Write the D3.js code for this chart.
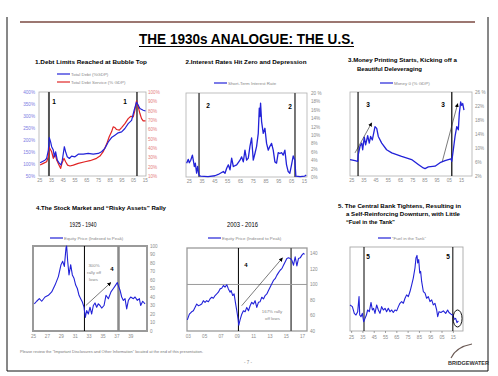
<!DOCTYPE html>
<html>
<head>
<meta charset="utf-8">
<script src="https://cdn.jsdelivr.net/npm/d3@7"></script>
<style>
  body { margin: 0; background: #fff; }
  svg { display: block; font-family: Arial, "Liberation Sans", sans-serif; }
</style>
</head>
<body>
<svg></svg>
<script>
// ---- data ----
// 1. total debt (% GDP, left axis) and debt service (% GDP, right axis)
var totalDebt = [[1925.6,105],[1929.8,116],[1931.2,123],[1932.7,158],[1933.5,210],[1934.6,192],[1935.5,172],[1936.9,158],[1937.8,130],[1938.9,151],[1940.3,116],[1942.0,103],[1943.5,96],[1944.6,116],[1946.3,172],[1947.4,151],[1948.8,130],[1950.6,123],[1952.5,133],[1955.4,130],[1958.2,141],[1962.5,141],[1966.7,144],[1971.0,141],[1975.3,144],[1978.1,151],[1980.9,165],[1983.8,192],[1986.6,210],[1989.5,220],[1992.3,230],[1995.2,234],[1998.0,248],[2000.8,268],[2003.7,282],[2005.9,324],[2007.9,358],[2009.4,345],[2010.8,331],[2013.6,324],[2015.6,321]];
var debtService = [[1925.6,21.7],[1928.4,23.5],[1931.2,25.3],[1932.7,30.6],[1933.5,40.6],[1935.5,36],[1936.9,28.9],[1938.3,34.2],[1939.8,27.1],[1941.7,21.7],[1943.2,18.2],[1944.3,23.5],[1946.0,28.9],[1947.4,25.3],[1949.1,21.7],[1951.1,20.7],[1954.0,21.7],[1958.2,23.5],[1963.9,25.3],[1968.2,26.4],[1973.8,28.9],[1976.7,31.3],[1979.5,36],[1982.4,44.2],[1984.6,52],[1986.6,57.3],[1988.0,62.6],[1989.5,61.9],[1990.9,59.8],[1993.2,59.1],[1995.2,61.9],[1998.0,66.2],[2000.8,71.5],[2003.1,74],[2005.1,73.3],[2006.5,80.4],[2007.9,90.4],[2009.4,84],[2010.8,76.9],[2012.2,71.5],[2013.6,69],[2015.6,69]];
var debtTicks = [50,100,150,200,250,300,350,400];
var serviceTicks = [10,20,30,40,50,60,70,80,90,100];
var debtMarkers = [1933.2, 2008.3];

// 2. short-term interest rate (%)
var shortRate = [[1923.3,3.3],[1924.6,4.2],[1925.4,3.4],[1926.5,4.0],[1927.8,5.2],[1928.5,4.0],[1929.3,2.5],[1930.1,3.3],[1931.1,0.9],[1931.9,2.5],[1932.9,0.5],[1934.2,0.2],[1940,0.1],[1945.4,0.3],[1948,0.6],[1952,1.3],[1953.3,0.9],[1954.6,2.1],[1955.9,2.9],[1957.2,1.7],[1958.5,4.5],[1959.8,2.5],[1962.4,2.9],[1965,4.0],[1966.3,4.8],[1967.6,3.6],[1968.9,6.4],[1970.2,4.0],[1971.5,4.5],[1972.8,7.3],[1974.1,9.3],[1975.4,4.0],[1976.7,5.6],[1978,7.3],[1979.3,10.4],[1980.1,16.4],[1980.6,14.4],[1981.1,17.6],[1981.9,13.2],[1983.2,10.4],[1984.5,11.6],[1985.8,8.0],[1987.1,6.4],[1988.4,7.3],[1989.7,8.0],[1991,6.4],[1992.3,3.6],[1993.6,3.3],[1994.9,5.8],[1996.2,5.6],[1997.5,5.8],[1998.8,5.2],[2000.1,6.4],[2001.4,2.9],[2002.7,1.3],[2004,0.9],[2005.3,2.9],[2006.6,5.0],[2007.9,4.0],[2008.7,0.2],[2012,0.1],[2015.5,0.2],[2016.8,0.5]];
var rateTicks = [0,2,4,6,8,10,12,14,16,18,20];
var rateMarkers = [1933, 2008];

// 3. money 0 (% GDP)
var money0 = [[1924,6.7],[1928.1,6.4],[1930.3,6.2],[1930.8,8.1],[1932.2,10.5],[1933.6,11.4],[1934.4,9.5],[1935.7,13.1],[1936.8,10.9],[1938.5,13.5],[1939.8,11.4],[1940.9,13.3],[1942.3,12.3],[1944.5,16.1],[1945.9,15.6],[1947.2,13.3],[1950,11.4],[1954,9.5],[1958.2,8.6],[1966.3,7.6],[1974.5,6.7],[1980,5.3],[1984.1,4.3],[1985.5,4.1],[1988.2,4.6],[1993.7,4.8],[1997.8,5.8],[2001.9,6.4],[2004.6,6.7],[2006.8,6.9],[2007.4,6.2],[2008.7,9.5],[2010.1,13.3],[2011.5,16.1],[2012.8,15.2],[2013.6,19.9],[2014.7,23.2],[2015.5,22.2],[2016.4,22.7],[2017.4,20.8]];
var moneyTicks = [2,6,10,14,18,22,26];
var moneyMarkers = [1930.6, 2007.4];
var moneyArrows = [[[1928.1,8.6],[1941.8,17.2]], [[1999.7,6.2],[2012.3,22.7]]];

// 4a. equity price 1925-1940 (indexed to peak)
var equity1925 = [[1925.19,32],[1925.53,35],[1925.91,38],[1926.25,35],[1926.73,40],[1927.21,42],[1927.69,46],[1928.17,54],[1928.65,64],[1929.03,78],[1929.27,82],[1929.51,76],[1929.75,98],[1929.84,100],[1929.99,82],[1930.18,66],[1930.42,78],[1930.66,66],[1930.9,62],[1931.14,54],[1931.38,50],[1931.62,42],[1931.86,38],[1932.1,34],[1932.34,28],[1932.53,16],[1932.72,24],[1932.96,20],[1933.2,28],[1933.44,20],[1933.68,30],[1933.92,33],[1934.16,28],[1934.4,32],[1934.64,30],[1934.88,27],[1935.22,30],[1935.5,42],[1935.84,38],[1936.22,46],[1936.56,50],[1936.89,54],[1937.13,57],[1937.33,52],[1937.52,48],[1937.76,40],[1938,36],[1938.24,38],[1938.48,26],[1938.72,36],[1939.05,40],[1939.44,38],[1939.68,40],[1940.01,36],[1940.3,38],[1940.49,30],[1940.78,35],[1941.12,32]];
var equity1925Ticks = [0,10,20,30,40,50,60,70,80,90,100];
var equity1925Years = [1925,1927,1929,1931,1933,1935,1937,1939];
var equity1925Markers = [1932.4, 1937.3];
var equity1925Arrow = [[1932.6,30],[1936.2,57]];

// 4b. equity price 2003-2016 (indexed to peak)
var equity2003 = [[2002.94,54.3],[2003.19,61.7],[2003.47,64.8],[2003.68,66.1],[2003.88,70.4],[2004.09,74.8],[2004.29,72.6],[2004.5,73.5],[2004.7,74.8],[2004.9,79.1],[2005.11,77],[2005.31,79.1],[2005.52,77.8],[2005.72,81.3],[2005.93,83.5],[2006.13,82.2],[2006.34,85.7],[2006.54,87.8],[2006.74,90],[2006.95,94.3],[2007.15,95.2],[2007.36,98.7],[2007.56,96.5],[2007.77,99.6],[2007.97,94.3],[2008.18,90],[2008.3,92.2],[2008.5,85.7],[2008.67,87.8],[2008.83,77],[2009,66.1],[2009.16,55.2],[2009.24,47.4],[2009.4,54.3],[2009.61,61.7],[2009.81,66.1],[2010.02,64.8],[2010.22,70.4],[2010.43,66.1],[2010.63,72.6],[2010.83,77],[2011.04,74.8],[2011.24,79.1],[2011.45,70.4],[2011.65,77],[2011.86,77.8],[2012.06,83.5],[2012.27,81.3],[2012.47,85.7],[2012.68,87.8],[2012.88,92.2],[2013.08,96.5],[2013.29,100.9],[2013.49,105.2],[2013.7,107.4],[2013.9,111.7],[2014.11,115.2],[2014.31,118.3],[2014.52,120.4],[2014.72,124.8],[2014.92,129.1],[2015.13,133.5],[2015.33,134.3],[2015.54,133.5],[2015.74,131.3],[2015.95,124.8],[2016.15,135.7],[2016.36,123.9],[2016.56,133.5],[2016.77,134.3],[2016.97,137.8],[2017.17,140],[2017.3,138.7]];
var equity2003Ticks = [40,60,80,100,120,140];
var equity2003Years = [2003,2005,2007,2009,2011,2013,2015,2017];
var equity2003Markers = [2009.2, 2015.65];
var equity2003Arrow = [[2009.6,72.6],[2014.6,134.3]];

// 5. "fuel in the tank" (no scale shown)
var fuelInTank = [[1924,31],[1926.1,29],[1927.8,21],[1929.3,19],[1930.8,23],[1932,41],[1932.6,19],[1933.7,17],[1934.9,21],[1936.1,11],[1937.3,15],[1938.5,19],[1939.6,25],[1941.1,23],[1942.6,34],[1943.8,25],[1944.9,27],[1946.1,21],[1947.6,31],[1949.1,25],[1950.5,21],[1952,29],[1953.5,25],[1955,27],[1956.4,23],[1957.9,27],[1959.4,23],[1960.9,25],[1962.3,22],[1963.8,25],[1965.3,24],[1966.8,29],[1968.2,33],[1969.7,35],[1971.2,33],[1972.7,39],[1974.1,43],[1975.6,41],[1977.1,47],[1978.6,55],[1980,63],[1981.5,75],[1982.4,87],[1983.3,90],[1983.9,81],[1984.8,85],[1985.7,69],[1986.5,71],[1987.4,59],[1988.9,47],[1990.4,45],[1991.8,39],[1993.3,41],[1994.8,35],[1996.3,37],[1997.7,31],[1999.2,33],[2000.7,25],[2001.6,17],[2002.8,23],[2004.5,22],[2006.6,24],[2008.7,21],[2010.4,25],[2011.6,22],[2013.4,20],[2014.9,19],[2016.3,14],[2017.5,15],[2018.7,10],[2019.9,12]];
var fuelMarkers = [1936.4, 2015];

var decadeYears = [1925,1935,1945,1955,1965,1975,1985,1995,2005,2015];

// ---- drawing ----
var svg = d3.select("svg").attr("width", 498).attr("height", 376);
svg.append("rect").attr("width", 498).attr("height", 376).attr("fill", "#fff");

svg.append("defs").append("marker")
  .attr("id", "arrow").attr("viewBox", "0 0 10 10")
  .attr("refX", 9).attr("refY", 5)
  .attr("markerUnits", "userSpaceOnUse")
  .attr("markerWidth", 4).attr("markerHeight", 4)
  .attr("orient", "auto")
  .append("path").attr("d", "M0,0L10,5L0,10z").attr("fill", "#000");

var BLUE = "#2222d8", RED = "#e02525";

function styleAxis(a, color) {
  a.select(".domain").remove();
  a.attr("font-size", 4.6).attr("font-family", null);
  a.selectAll("text").attr("fill", color);
  a.selectAll("line").attr("stroke", "#666").attr("stroke-width", 0.6);
}

function drawPanel(p) {
  var x = d3.scaleLinear().domain(p.xDomain).range([p.left, p.right]);
  var y = d3.scaleLinear().domain(p.yDomain).range([p.bottom, p.top]);
  var g = svg.append("g");
  g.append("rect")
    .attr("x", p.left).attr("y", p.top)
    .attr("width", p.right - p.left).attr("height", p.bottom - p.top)
    .attr("fill", "none").attr("stroke", p.frame).attr("stroke-width", p.frameWidth);

  var xa = g.append("g").attr("transform", "translate(0," + p.bottom + ")")
    .call(d3.axisBottom(x).tickValues(p.xTicks).tickSize(p.xTickSize || 0).tickPadding(p.xPad)
      .tickFormat(function (d) { return String(d).slice(-2); }));
  styleAxis(xa, "#8c8c8c");

  if (p.yTicks) {
    var ya = g.append("g").attr("transform", "translate(" + p.right + ",0)")
      .call(d3.axisRight(y).tickValues(p.yTicks).tickSize(0).tickPadding(p.yPad)
        .tickFormat(p.yFormat));
    styleAxis(ya, p.yColor || "#8c8c8c");
  }

  p.markers.forEach(function (m, i) {
    g.append("line")
      .attr("x1", x(m)).attr("x2", x(m))
      .attr("y1", p.top).attr("y2", p.bottom)
      .attr("stroke", p.markerStyle[i][0]).attr("stroke-width", p.markerStyle[i][1]);
  });
  return { x: x, y: y, g: g };
}

function drawLine(P, data, yScale, color, w) {
  P.g.append("path").datum(data)
    .attr("fill", "none").attr("stroke", color).attr("stroke-width", w)
    .attr("stroke-linejoin", "round")
    .attr("d", d3.line().x(function (d) { return P.x(d[0]); })
      .y(function (d) { return yScale(d[1]); }));
}

function drawArrow(P, pts) {
  P.g.append("line")
    .attr("x1", P.x(pts[0][0])).attr("y1", P.y(pts[0][1]))
    .attr("x2", P.x(pts[1][0])).attr("y2", P.y(pts[1][1]))
    .attr("stroke", "#222").attr("stroke-width", 0.6)
    .attr("marker-end", "url(#arrow)");
}

function label(txt, x, y, size, opts) {
  opts = opts || {};
  var t = svg.append("text").attr("x", x).attr("y", y)
    .attr("font-size", size).attr("fill", opts.fill || "#000")
    .attr("text-anchor", opts.anchor || "start")
    .attr("font-weight", opts.bold ? "bold" : "normal")
    .text(txt);
  if (opts.len) t.attr("textLength", opts.len).attr("lengthAdjust", "spacingAndGlyphs");
  return t;
}

function legend(x, y, color, txt) {
  svg.append("line").attr("x1", x).attr("x2", x + 13).attr("y1", y).attr("y2", y)
    .attr("stroke", color).attr("stroke-width", 1.2);
  label(txt, x + 14, y + 1.5, 4.4, { fill: "#888" });
}

// frame of the slide
svg.append("path").attr("d", "M7,17V371H488V17").attr("fill", "none")
  .attr("stroke", "#111").attr("stroke-width", 1);
svg.append("line").attr("x1", 20).attr("x2", 475).attr("y1", 22).attr("y2", 22)
  .attr("stroke", "#7b4a42").attr("stroke-width", 1.6);

label("THE 1930s ANALOGUE: THE U.S.", 246.5, 44, 14, { anchor: "middle", bold: true, len: 215 });
svg.append("line").attr("x1", 139).attr("x2", 354).attr("y1", 46.5).attr("y2", 46.5)
  .attr("stroke", "#000").attr("stroke-width", 1);

// ---- panel 1 ----
label("1.Debt Limits Reached at Bubble Top", 91, 64, 6, { anchor: "middle", bold: true, len: 112 });
legend(57, 74, BLUE, "Total Debt (%GDP)");
legend(57, 82, RED, "Total Debt Service (% GDP)");
var P1 = drawPanel({
  left: 39, right: 146, top: 92, bottom: 176,
  xDomain: [1924.7, 2016], yDomain: [50, 400], xTicks: decadeYears, xPad: 3,
  frame: "#b0b0b0", frameWidth: 0.8,
  markers: debtMarkers, markerStyle: [["#555", 2], ["#000", 1.2]]
});
var y1b = d3.scaleLinear().domain([10, 100]).range([176, 92]);
var la = P1.g.append("g").attr("transform", "translate(39,0)")
  .call(d3.axisLeft(P1.y).tickValues(debtTicks).tickSize(0).tickPadding(4)
    .tickFormat(function (d) { return d + "%"; }));
styleAxis(la, "#7b7be3");
var ra = P1.g.append("g").attr("transform", "translate(146,0)")
  .call(d3.axisRight(y1b).tickValues(serviceTicks).tickSize(0).tickPadding(2)
    .tickFormat(function (d) { return d + "%"; }));
styleAxis(ra, "#e57e7e");
drawLine(P1, debtService, y1b, RED, 1.2);
drawLine(P1, totalDebt, P1.y, BLUE, 1.2);
label("1", P1.x(debtMarkers[0]) + 5, 104, 6.5, { anchor: "middle", bold: true });
label("1", P1.x(debtMarkers[1]) - 12, 104, 6.5, { anchor: "middle", bold: true });

// ---- panel 2 ----
label("2.Interest Rates Hit Zero and Depression", 246, 64, 6, { anchor: "middle", bold: true, len: 121 });
legend(214, 83, BLUE, "Short-Term Interest Rate");
var P2 = drawPanel({
  left: 186, right: 307, top: 93, bottom: 177,
  xDomain: [1922.8, 2017.4], yDomain: [0, 20], xTicks: decadeYears, xPad: 3,
  yTicks: rateTicks, yPad: 4, yFormat: function (d) { return d === 20 ? "20 %" : d + "%"; },
  frame: "#b0b0b0", frameWidth: 0.8,
  markers: rateMarkers, markerStyle: [["#555", 1.6], ["#555", 1.6]]
});
drawLine(P2, shortRate, P2.y, BLUE, 1.3);
label("2", P2.x(rateMarkers[0]) + 9, 108, 6.5, { anchor: "middle", bold: true });
label("2", P2.x(rateMarkers[1]) - 5, 108.5, 6.5, { anchor: "middle", bold: true });

// ---- panel 3 ----
label("3.Money Printing Starts, Kicking off a", 348, 62, 6, { bold: true, len: 109 });
label("Beautiful Deleveraging", 357, 71, 6, { bold: true, len: 65 });
legend(380, 83, BLUE, "Money 0 (% GDP)");
var P3 = drawPanel({
  left: 350, right: 472, top: 92, bottom: 176,
  xDomain: [1924, 2024], yDomain: [2, 26], xTicks: decadeYears, xPad: 3,
  yTicks: moneyTicks, yPad: 3, yFormat: function (d) { return d === 26 ? "26 %" : d + "%"; },
  frame: "#b0b0b0", frameWidth: 0.8,
  markers: moneyMarkers, markerStyle: [["#111", 1.2], ["#333", 1.5]]
});
drawLine(P3, money0, P3.y, BLUE, 1.3);
moneyArrows.forEach(function (a) { drawArrow(P3, a); });
label("3", 368, 107, 6.5, { anchor: "middle", bold: true });
label("3", 443, 107, 6.5, { anchor: "middle", bold: true });

// ---- panel 4 (two charts) ----
label("4.The Stock Market and \u201cRisky Assets\u201d Rally", 36, 210, 6, { bold: true, len: 130 });
label("1925 - 1940", 83, 227, 6.5, { anchor: "middle", len: 27 });
label("2003 - 2016", 242.5, 227, 6.5, { anchor: "middle", len: 31 });
legend(50, 238, BLUE, "Equity Price (Indexed to Peak)");
legend(208, 238, BLUE, "Equity Price (Indexed to Peak)");

var P4 = drawPanel({
  left: 33, right: 147, top: 246, bottom: 331,
  xDomain: [1925, 1941.4], yDomain: [0, 100], xTicks: equity1925Years, xPad: 4,
  yTicks: equity1925Ticks, yPad: 3, yFormat: function (d) { return d; },
  frame: "#9a9a9a", frameWidth: 2,
  markers: equity1925Markers, markerStyle: [["#000", 1], ["#8a8a8a", 2.5]]
});
drawLine(P4, equity1925, P4.y, BLUE, 1.1);
drawArrow(P4, equity1925Arrow);
label("300%", 94, 266.5, 4.4, { anchor: "middle", fill: "#888" });
label("rally off", 94, 274, 4.4, { anchor: "middle", fill: "#888" });
label("lows", 93.5, 281, 4.4, { anchor: "middle", fill: "#888" });
label("4", 112, 270.5, 6, { anchor: "middle", bold: true });

var P5 = drawPanel({
  left: 187, right: 307, top: 248, bottom: 331,
  xDomain: [2002.9, 2017.6], yDomain: [40, 147], xTicks: equity2003Years, xPad: 4,
  yTicks: equity2003Ticks, yPad: 3, yFormat: function (d) { return d; },
  frame: "#9a9a9a", frameWidth: 1.3,
  markers: equity2003Markers, markerStyle: [["#000", 1], ["#555", 1.5]]
});
P5.g.append("line").attr("x1", 187).attr("x2", 307)
  .attr("y1", P5.y(100)).attr("y2", P5.y(100))
  .attr("stroke", "#9a9a9a").attr("stroke-width", 1);
drawLine(P5, equity2003, P5.y, BLUE, 1.1);
drawArrow(P5, equity2003Arrow);
label("4", 246, 266.5, 6, { anchor: "middle", bold: true });
label("167% rally", 272, 313, 4.4, { anchor: "middle", fill: "#888" });
label("off lows", 272.5, 320, 4.4, { anchor: "middle", fill: "#888" });

// ---- panel 5 ----
label("5. The Central Bank Tightens, Resulting in", 338, 207.5, 6, { bold: true, len: 123 });
label("a Self-Reinforcing Downturn, with Little", 346, 215.5, 6, { bold: true, len: 114 });
label("\u201cFuel in the Tank\u201d", 346, 223.5, 6, { bold: true, len: 49 });
legend(378, 238, BLUE, "\u201cFuel in the Tank\u201d");
var P6 = drawPanel({
  left: 350, right: 463, top: 247, bottom: 331,
  xDomain: [1924, 2024], yDomain: [0, 100], xTicks: decadeYears, xPad: 3, xTickSize: 2,
  frame: "#a8a8a8", frameWidth: 0.9,
  markers: fuelMarkers, markerStyle: [["#000", 1], ["#000", 1]]
});
drawLine(P6, fuelInTank, P6.y, BLUE, 1.1);
P6.g.append("ellipse").attr("cx", P6.x(2019.2)).attr("cy", P6.y(14.9))
  .attr("rx", 4.5).attr("ry", 8.5)
  .attr("fill", "none").attr("stroke", "#000").attr("stroke-width", 0.9);
label("5", 368, 259, 6.5, { anchor: "middle", bold: true });
label("5", 448, 259, 6.5, { anchor: "middle", bold: true });

// ---- footer ----
label("Please review the \u201cImportant Disclosures and Other Information\u201d located at the end of this presentation.",
  20, 352.5, 3.6, { fill: "#777", len: 183 });
label("- 7 -", 248, 364, 4.5, { anchor: "middle", fill: "#888" });
svg.append("path").attr("d", "M451,358 Q456,347 472,344")
  .attr("fill", "none").attr("stroke", "#6b5a55").attr("stroke-width", 1.1);
label("BRIDGEWATER", 448, 364.5, 5.5, { bold: true, fill: "#333", len: 41 });
</script>
</body>
</html>
